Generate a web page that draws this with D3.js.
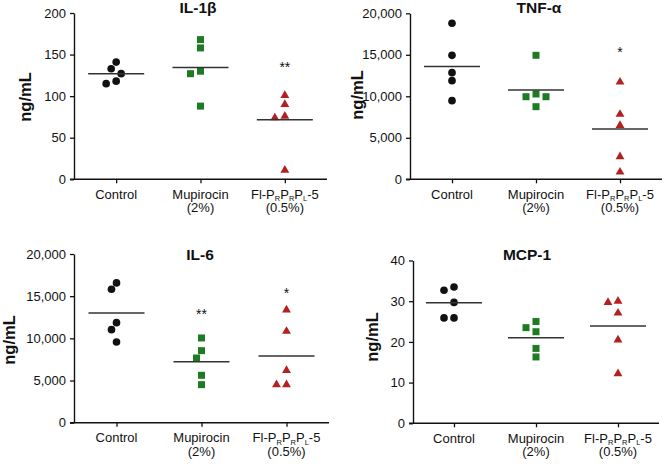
<!DOCTYPE html>
<html><head><meta charset="utf-8">
<script src="https://cdn.jsdelivr.net/npm/d3@7"></script>
<style>
body{margin:0;background:#fff}
svg{display:block}
text{font-family:"Liberation Sans",Arial,Helvetica,sans-serif;fill:#111}
</style>
</head><body>
<svg id="chart" width="665" height="464"></svg>
<script>
// ---------------- data ----------------
const categories = ["Control", "Mupirocin", "Fl-P_RP_RP_L-5"];
const categoryNotes = ["", "(2%)", "(0.5%)"];

const il1bControl = [141, 133, 127, 118, 115];
const il1bMupirocin = [168, 158, 130, 127, 88];
const il1bFl = [101, 90, 76, 74, 11];
const il1bMeans = [127, 134.5, 71.5];
const il1bStars = ["", "", "**"];
const il1bStarAt = [null, null, 138];
const il1bTicks = [0, 50, 100, 150, 200];

const tnfControl = [18800, 14940, 12850, 11880, 9470];
const tnfMupirocin = [14940, 10280, 9950, 9950, 8750];
const tnfFl = [11720, 7830, 6500, 2720, 880];
const tnfMeans = [13600, 10760, 6050];
const tnfStars = ["", "", "*"];
const tnfStarAt = [null, null, 15580];
const tnfTicks = [0, 5000, 10000, 15000, 20000];

const il6Control = [16570, 15820, 11860, 11030, 9570];
const il6Mupirocin = [10045, 8540, 7670, 5620, 4510];
const il6Fl = [13370, 10840, 6210, 4510, 4510];
const il6Means = [13010, 7235, 7910];
const il6Stars = ["", "**", "*"];
const il6StarAt = [null, 13130, 15580];
const il6Ticks = [0, 5000, 10000, 15000, 20000];

const mcpControl = [33.5, 32.7, 29.7, 25.9, 25.9];
const mcpMupirocin = [25.0, 23.5, 22.5, 18.4, 16.3];
const mcpFl = [30.0, 29.7, 27.1, 20.5, 12.2];
const mcpMeans = [29.6, 21.0, 23.9];
const mcpStars = ["", "", ""];
const mcpStarAt = [null, null, null];
const mcpTicks = [0, 10, 20, 30, 40];

// ---------------- layout / styles ----------------
const markerColors = ["#111111", "#1f7a24", "#b3201f"];
const markerShapes = [d3.symbolCircle, d3.symbolSquare, d3.symbolTriangle];
const markerSizes = [46, 49, 34];

const panels = [
  {title: "IL-1β", series: [il1bControl, il1bMupirocin, il1bFl], means: il1bMeans,
   stars: il1bStars, starAt: il1bStarAt, ticks: il1bTicks, fmt: d3.format("d"),
   left: 74, right: 327, top: 13, bottom: 179.3, titleX: 198, titleY: 12.5, labX: 31, labY: 97},
  {title: "TNF-α", series: [tnfControl, tnfMupirocin, tnfFl], means: tnfMeans,
   stars: tnfStars, starAt: tnfStarAt, ticks: tnfTicks, fmt: d3.format(","),
   left: 410, right: 662, top: 13.3, bottom: 179.3, titleX: 539, titleY: 12.5, labX: 363, labY: 95},
  {title: "IL-6", series: [il6Control, il6Mupirocin, il6Fl], means: il6Means,
   stars: il6Stars, starAt: il6StarAt, ticks: il6Ticks, fmt: d3.format(","),
   left: 74, right: 329, top: 254, bottom: 422.7, titleX: 200, titleY: 260, labX: 15, labY: 340},
  {title: "MCP-1", series: [mcpControl, mcpMupirocin, mcpFl], means: mcpMeans,
   stars: mcpStars, starAt: mcpStarAt, ticks: mcpTicks, fmt: d3.format("d"),
   left: 413, right: 659, top: 260.5, bottom: 423.3, titleX: 527, titleY: 260, labX: 378, labY: 337}
];

const svg = d3.select("#chart");

// greedy beeswarm: offsets on a 5px grid so markers don't overlap
function swarm(values, y, diam, step) {
  const order = values.map((v, i) => i).sort((a, b) => values[b] - values[a]);
  const placed = [];
  const offs = new Array(values.length);
  for (const i of order) {
    const py = y(values[i]);
    for (let k = 0; k < 50; k++) {
      const c = k === 0 ? 0 : (k % 2 ? -Math.ceil(k / 2) * step : Math.ceil(k / 2) * step);
      if (placed.every(p => Math.hypot(p.x - c, p.y - py) >= diam)) {
        offs[i] = c; placed.push({x: c, y: py}); break;
      }
    }
  }
  return offs;
}

function richText(sel, str, subSize, shift) {
  // "_X" means X is a subscript
  const segs = [];
  let i = 0;
  while (i < str.length) {
    if (str[i] === "_") { segs.push({t: str[i + 1], sub: true}); i += 2; }
    else {
      let j = i;
      while (j < str.length && str[j] !== "_") j++;
      segs.push({t: str.slice(i, j), sub: false}); i = j;
    }
  }
  let prevSub = false;
  segs.forEach(s => {
    const dy = (s.sub ? shift : 0) - (prevSub ? shift : 0);
    const ts = sel.append("tspan").text(s.t);
    if (dy) ts.attr("dy", dy);
    if (s.sub) ts.attr("font-size", subSize);
    prevSub = s.sub;
  });
}

panels.forEach(p => {
  const g = svg.append("g");
  const x = d3.scalePoint().domain(categories).range([p.left, p.right]).padding(0.5);
  const y = d3.scaleLinear().domain([p.ticks[0], p.ticks[p.ticks.length - 1]]).range([p.bottom, p.top]);

  // y axis
  const ya = g.append("g").attr("transform", `translate(${p.left},0)`)
    .call(d3.axisLeft(y).tickValues(p.ticks).tickFormat(p.fmt).tickSize(4).tickPadding(4).tickSizeOuter(0));
  ya.select(".domain").attr("stroke", "#111").attr("stroke-width", 1.4);
  ya.selectAll(".tick line").attr("stroke", "#111").attr("stroke-width", 1.3);
  ya.selectAll(".tick text").attr("font-size", 13).attr("fill", "#111")
    .attr("font-family", '"Liberation Sans",Arial,sans-serif');

  // x axis
  const xa = g.append("g").attr("transform", `translate(0,${p.bottom})`)
    .call(d3.axisBottom(x).tickSize(4).tickSizeOuter(0).tickFormat(""));
  xa.select(".domain").attr("stroke", "#111").attr("stroke-width", 1.4)
    .attr("d", `M${p.left - 4},0H${p.right}`);
  xa.selectAll(".tick line").attr("stroke", "#111").attr("stroke-width", 1.3);

  // category labels
  categories.forEach((c, ci) => {
    const t = g.append("text").attr("x", x(c)).attr("y", p.bottom + 19.5)
      .attr("text-anchor", "middle").attr("font-size", 13);
    richText(t, c, 7.5, 2.5);
    if (categoryNotes[ci]) {
      g.append("text").attr("x", x(c)).attr("y", p.bottom + 33)
        .attr("text-anchor", "middle").attr("font-size", 13).text(categoryNotes[ci]);
    }
  });

  // title
  g.append("text").attr("x", p.titleX).attr("y", p.titleY).attr("text-anchor", "middle")
    .attr("font-size", 15.5).attr("font-weight", "bold").text(p.title);

  // y label
  g.append("text").attr("transform", `translate(${p.labX},${p.labY}) rotate(-90)`)
    .attr("text-anchor", "middle").attr("font-size", 16.5).attr("font-weight", "bold").text("ng/mL");

  // points
  p.series.forEach((vals, si) => {
    const offs = swarm(vals, y, 8, 5);
    const cx = x(categories[si]);
    g.append("g").selectAll("path").data(vals).join("path")
      .attr("d", d3.symbol().type(markerShapes[si]).size(markerSizes[si]))
      .attr("transform", (d, i) => `translate(${cx + offs[i]},${y(d)})`)
      .attr("fill", markerColors[si]);
    // mean line
    g.append("line").attr("x1", cx - 28).attr("x2", cx + 28)
      .attr("y1", y(p.means[si])).attr("y2", y(p.means[si]))
      .attr("stroke", "#333").attr("stroke-width", 1.5);
    // significance
    if (p.stars[si]) {
      g.append("text").attr("x", cx).attr("y", y(p.starAt[si]) + 7)
        .attr("text-anchor", "middle").attr("font-size", 14).text(p.stars[si]);
    }
  });
});
</script>
</body></html>
